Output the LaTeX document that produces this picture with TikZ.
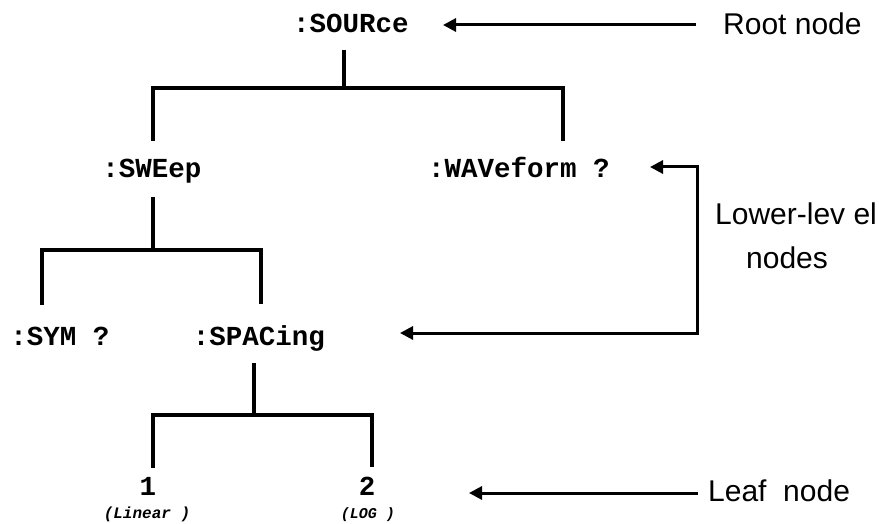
\documentclass[tikz,border=0pt]{standalone}
\usepackage{fontspec}
\setmainfont{Liberation Sans}
\newfontfamily\codefont{Liberation Mono}
\newfontfamily\lblfont{Liberation Sans}
\usetikzlibrary{arrows.meta}
\begin{document}
\begin{tikzpicture}[x=1pt,y=-1pt,
  code/.style={font=\codefont\bfseries\fontsize{27.5}{30}\selectfont, inner sep=0pt, anchor=base},
  sub/.style={font=\codefont\bfseries\itshape\fontsize{16}{18}\selectfont, inner sep=0pt, anchor=base},
  subsmall/.style={font=\codefont\bfseries\itshape\fontsize{15}{17}\selectfont, inner sep=0pt, anchor=base},
  lbl/.style={font=\lblfont\fontsize{30}{34}\selectfont, inner sep=0pt, anchor=base west},
  tree/.style={line width=3.4pt},
  arr/.style={line width=3pt, -{Triangle[length=13pt,width=13pt]}},
]
\useasboundingbox (0,0) rectangle (879,524);
% tree nodes
\node[code] (src) at (351,33) {:SOURce};
\node[code] (swp) at (152,178) {:SWEep};
\node[code] (wav) at (519,178) {:WAVeform ?};
\node[code] (sym) at (60,345) {:SYM ?};
\node[code] (spc) at (259,345) {:SPACing};
\node[code] (one) at (148,495) {1};
\node[code] (two) at (367,495) {2};
\node[sub] (lin) at (147,518) {(Linear )};
\node[subsmall] (log) at (368,518) {(LOG )};
% labels
\node[lbl] (rootl) at (723,35) {Root node};
\node[lbl] (lowl) at (715,225) {Lower-lev el};
\node[lbl] (nodesl) at (746,268) {nodes};
\node[lbl] (leafl) at (708,501) {Leaf\ \ node};
% junctions
\coordinate (b1) at (344,88);
\coordinate (b2) at (153,250);
\coordinate (b3) at (254,415);
% tree connectors
\draw[tree, shorten <=17pt] (src.south -| b1) -- (b1);
\draw[tree, shorten >=18pt] (b1) -| (swp.north -| b2);
\draw[tree, shorten >=16pt] (b1) -| ([xshift=44pt]wav.north);
\draw[tree, shorten <=13pt] (swp.south -| b2) -- (b2);
\draw[tree, shorten >=21pt] (b2) -| ([xshift=-18pt]sym.north);
\draw[tree, shorten >=21pt] (b2) -| ([xshift=2pt]spc.north);
\draw[tree, shorten <=12pt] (spc.south -| b3) -- (b3);
\draw[tree, shorten >=9pt] (b3) -| ([xshift=5pt]one.north);
\draw[tree, shorten >=9pt] (b3) -| ([xshift=5pt]two.north);
% annotation arrows
\coordinate (rt) at (443,25);
\coordinate (lt) at (469,493);
\coordinate (lv1) at (650,167);
\coordinate (lvc) at (697,333);
\coordinate (lv2) at (400,333);
\draw[arr, shorten <=27pt] (rootl.west |- rt) -- (rt);
\draw[arr, shorten <=10pt] (leafl.west |- lt) -- (lt);
\draw[line width=3pt, {Triangle[length=13pt,width=13pt]}-{Triangle[length=13pt,width=13pt]}] (lv1) -| (lvc) -- (lv2);
\end{tikzpicture}
\end{document}
